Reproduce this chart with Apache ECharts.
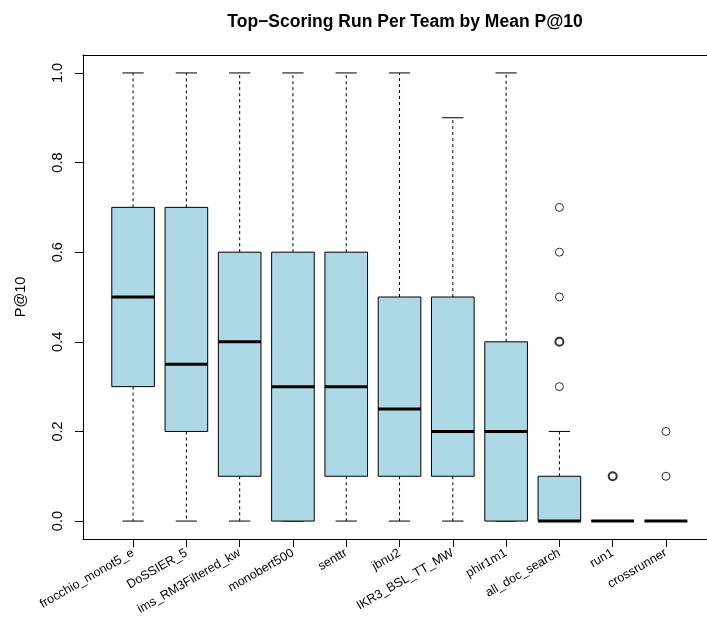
<!DOCTYPE html>
<html>
<head>
<meta charset="utf-8">
<script src="https://cdn.jsdelivr.net/npm/echarts@6/dist/echarts.min.js"></script>
<style>
  html, body { margin: 0; padding: 0; background: #fff; }
  #chart { width: 707px; height: 629px; }
</style>
</head>
<body>
<div id="chart"></div>
<script>
// Per-team P@10 distributions (five-number summaries) for the top-scoring run
const teams = ['frocchio_monot5_e', 'DoSSIER_5', 'ims_RM3Filtered_kw', 'monobert500', 'senttr',
  'jbnu2', 'IKR3_BSL_TT_MW', 'phir1m1', 'all_doc_search', 'run1', 'crossrunner'];
const lowerWhisker = [0, 0, 0, 0, 0, 0, 0, 0, 0, 0, 0];
const lowerQuartile = [0.3, 0.2, 0.1, 0, 0.1, 0.1, 0.1, 0, 0, 0, 0];
const medians = [0.5, 0.35, 0.4, 0.3, 0.3, 0.25, 0.2, 0.2, 0, 0, 0];
const upperQuartile = [0.7, 0.7, 0.6, 0.6, 0.6, 0.5, 0.5, 0.4, 0.1, 0, 0];
const upperWhisker = [1, 1, 1, 1, 1, 1, 0.9, 1, 0.2, 0, 0];

// Outlying topics: team position (1-based) and value; repeats mark ties
const outlierTeam = [9, 9, 9, 9, 9, 9, 9, 10, 10, 11, 11];
const outlierValue = [0.3, 0.4, 0.4, 0.5, 0.6, 0.7, 0.4, 0.1, 0.1, 0.1, 0.2];

const yTicks = [0, 0.2, 0.4, 0.6, 0.8, 1.0];
const xPositions = teams.map((_, i) => i + 1);

const boxData = teams.map((_, i) => [i + 1, lowerWhisker[i], lowerQuartile[i], medians[i], upperQuartile[i], upperWhisker[i]]);

// collapse tied outliers into one point with a heavier outline
const outlierMap = {};
outlierTeam.forEach((t, i) => {
  const key = t + '|' + outlierValue[i];
  outlierMap[key] = outlierMap[key] || { t: t, v: outlierValue[i], n: 0 };
  outlierMap[key].n += 1;
});
const outlierData = Object.values(outlierMap).map(o => ({
  value: [o.t, o.v],
  itemStyle: { borderWidth: o.n > 1 ? 2 : 1 }
}));

const FONT = '"Liberation Sans", Arial, Helvetica, sans-serif';
const X_MIN = 0.06, X_MAX = 11.77;

function renderBox(params, api) {
  const x = api.value(0);
  const lo = api.value(1), q1 = api.value(2), med = api.value(3), q3 = api.value(4), hi = api.value(5);
  const half = api.size([0.4, 0])[0];
  const capHalf = api.size([0.2, 0])[0];
  const pLo = api.coord([x, lo]), pQ1 = api.coord([x, q1]), pMed = api.coord([x, med]);
  const pQ3 = api.coord([x, q3]), pHi = api.coord([x, hi]);
  const cx = pMed[0];
  const dashed = { stroke: '#000', lineWidth: 1, lineDash: [3, 3] };
  const solid = { stroke: '#000', lineWidth: 1 };
  return {
    type: 'group',
    children: [
      { type: 'line', shape: { x1: cx, y1: pQ3[1], x2: cx, y2: pHi[1] }, style: dashed },
      { type: 'line', shape: { x1: cx, y1: pQ1[1], x2: cx, y2: pLo[1] }, style: dashed },
      { type: 'line', shape: { x1: cx - capHalf, y1: pHi[1], x2: cx + capHalf, y2: pHi[1] }, style: solid },
      { type: 'line', shape: { x1: cx - capHalf, y1: pLo[1], x2: cx + capHalf, y2: pLo[1] }, style: solid },
      { type: 'rect', shape: { x: cx - half, y: pQ3[1], width: half * 2, height: pQ1[1] - pQ3[1] },
        style: { fill: '#ADD8E6', stroke: '#000', lineWidth: 1 } },
      { type: 'line', shape: { x1: cx - half, y1: pMed[1], x2: cx + half, y2: pMed[1] },
        style: { stroke: '#000', lineWidth: 3 } }
    ]
  };
}

const chart = echarts.init(document.getElementById('chart'), null, { renderer: 'canvas' });
chart.setOption({
  animation: false,
  backgroundColor: '#fff',
  title: {
    text: 'Top\u2212Scoring Run Per Team by Mean P@10',
    left: 400,
    textAlign: 'center',
    top: 8,
    textStyle: { fontFamily: FONT, fontSize: 17.5, fontWeight: 'bold', color: '#000' }
  },
  grid: { left: 83, right: 0, top: 55, bottom: 90, show: false },
  xAxis: [
    {
      type: 'value',
      min: X_MIN, max: X_MAX,
      splitLine: { show: false },
      axisLine: { show: true, onZero: false, lineStyle: { color: '#000', width: 1 } },
      axisTick: { show: true, customValues: xPositions, length: 8, lineStyle: { color: '#000' } },
      axisLabel: {
        customValues: xPositions,
        formatter: v => teams[Math.round(v) - 1],
        rotate: 30,
        margin: 13,
        fontFamily: FONT, fontSize: 12.5, color: '#000'
      }
    },
    {
      // top edge of the plot frame
      type: 'value',
      position: 'top',
      min: X_MIN, max: X_MAX,
      splitLine: { show: false },
      axisLine: { show: true, onZero: false, lineStyle: { color: '#000', width: 1 } },
      axisTick: { show: false },
      axisLabel: { show: false }
    }
  ],
  yAxis: {
    type: 'value',
    min: -0.04, max: 1.04,
    name: 'P@10',
    nameLocation: 'middle',
    nameRotate: 90,
    nameGap: 55,
    nameTextStyle: { fontFamily: FONT, fontSize: 14.5, color: '#000' },
    splitLine: { show: false },
    axisLine: { show: true, onZero: false, lineStyle: { color: '#000', width: 1 } },
    axisTick: { show: true, customValues: yTicks, length: 8, lineStyle: { color: '#000' } },
    axisLabel: {
      customValues: yTicks,
      formatter: v => v.toFixed(1),
      rotate: 90,
      margin: 18,
      fontFamily: FONT, fontSize: 14.5, color: '#000'
    }
  },
  series: [
    {
      type: 'custom',
      renderItem: renderBox,
      data: boxData,
      encode: { x: 0, y: [1, 2, 3, 4, 5] },
      z: 2
    },
    {
      type: 'scatter',
      data: outlierData,
      symbol: 'circle',
      symbolSize: 8,
      itemStyle: { color: '#fff', borderColor: '#000', borderWidth: 1 },
      z: 3
    }
  ]
});
</script>
</body>
</html>
